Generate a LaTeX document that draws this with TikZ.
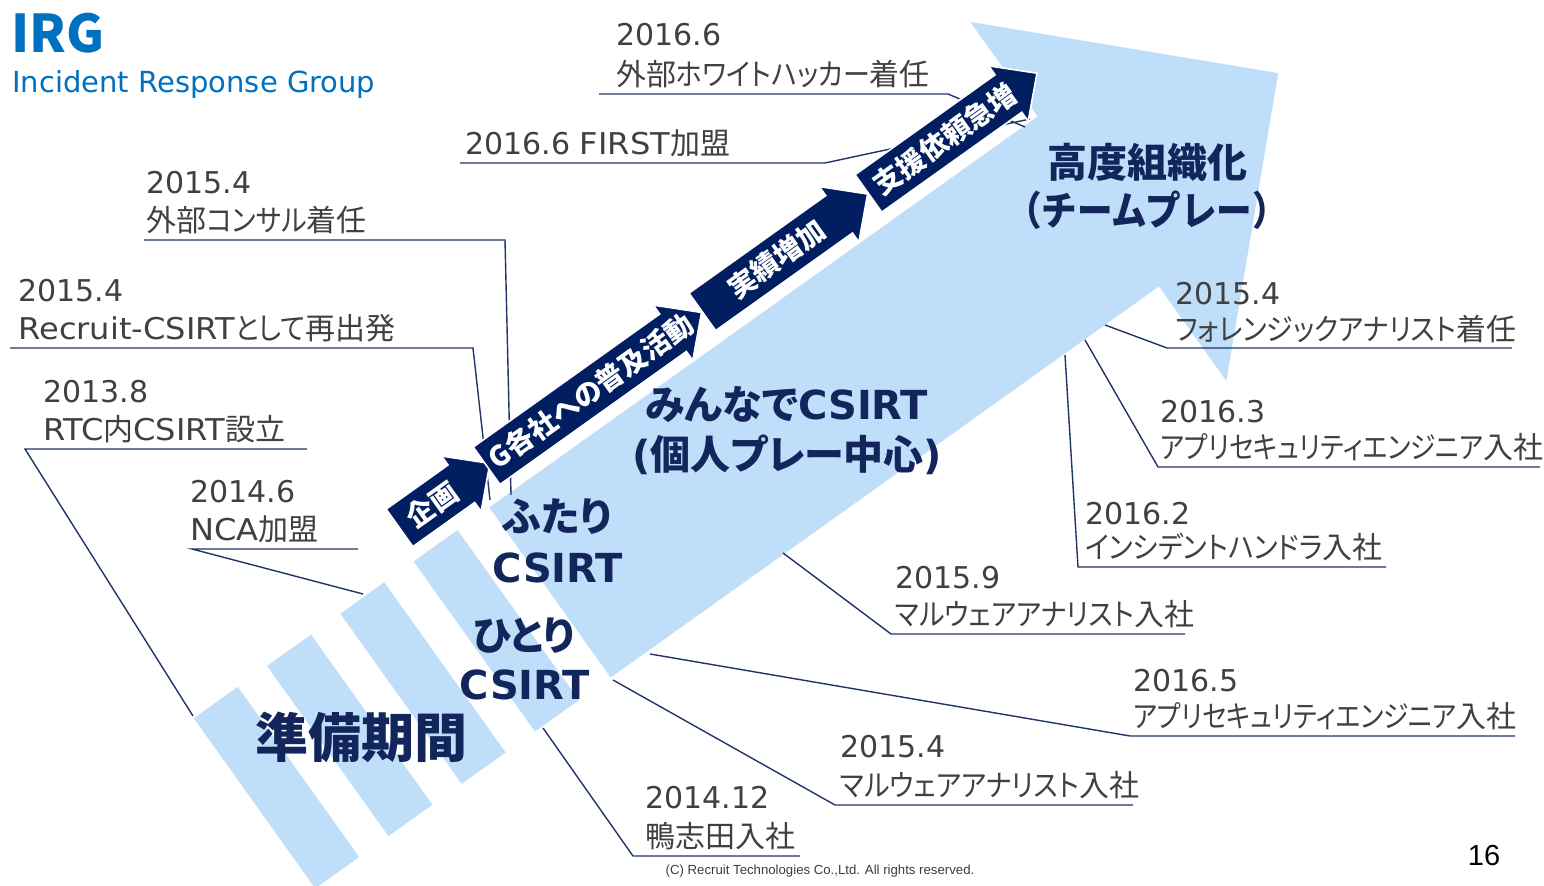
\documentclass[tikz,border=0pt]{standalone}
\usepackage{fontspec}
\setmainfont{DejaVu Sans}
\newfontfamily\jp[RawFeature=+palt]{Noto Sans CJK JP}
\newfontfamily\jk[RawFeature=+palt, FakeStretch=0.9]{Noto Sans CJK JP}
\newfontfamily\jkk[RawFeature=+palt, FakeStretch=0.86]{Noto Sans CJK JP}
\newfontfamily\jpplain{Noto Sans CJK JP}
\newfontfamily\jpc[FakeStretch=0.89]{Noto Sans CJK JP}
\newfontfamily\latw[FakeStretch=1.07]{DejaVu Sans}
\newfontfamily\ftr{Liberation Sans}
\definecolor{lblue}{RGB}{191,222,250}
\definecolor{navy}{RGB}{0,30,96}
\definecolor{bignavy}{RGB}{18,38,92}
\definecolor{linec}{RGB}{32,52,104}
\definecolor{lbl}{RGB}{64,64,64}
\definecolor{titleblue}{RGB}{0,112,192}
\definecolor{footc}{RGB}{60,60,60}
\begin{document}
\begin{tikzpicture}[x=0.5pt,y=-0.5pt,
  leader/.style={draw=linec, line width=0.7pt},
  lbltxt/.style={anchor=base west, inner sep=0pt, text=lbl, font=\fontsize{15}{18}\selectfont},
  bigtxt/.style={inner sep=0pt, text=bignavy, font=\fontsize{20}{24}\selectfont\bfseries},
  arrtxt/.style={inner sep=0pt, text=white, font=\fontsize{14}{16}\selectfont\bfseries\jp, rotate=35.5},
  darrow/.style={fill=navy, draw=white, line width=0.8pt, line join=miter}
]
\useasboundingbox (0,0) rectangle (1544,886);

% light blue shapes
\begin{scope}[shift={(550,592.5)}, rotate=35.5]
 \fill[lblue] (0,-104.5) -- (673.5,-104.5) -- (673.5,-220.5) -- (894.5,0) -- (673.5,220.5) -- (673.5,104.5) -- (0,104.5) -- cycle;
 \foreach \s in {0,1,2,3} {
   \fill[lblue] ({-93-90*\s},-104.5) -- ({-39-90*\s},-104.5) -- ({-39-90*\s},104.5) -- ({-93-90*\s},104.5) -- cycle;
 }
\end{scope}

% leader coordinates
\coordinate (l1a) at (599,94);  \coordinate (l1b) at (948,94);  \coordinate (l1c) at (1025,127);
\coordinate (l2a) at (460,163); \coordinate (l2b) at (825,163); \coordinate (l2c) at (1030,119);
\coordinate (l3a) at (144,240); \coordinate (l3b) at (505,240); \coordinate (l3c) at (511,495);
\coordinate (l4a) at (10,348);  \coordinate (l4b) at (473,348); \coordinate (l4c) at (490,500);
\coordinate (l5a) at (307,449); \coordinate (l5b) at (25,449);  \coordinate (l5c) at (193,716);
\coordinate (l6a) at (358,549); \coordinate (l6b) at (192,549); \coordinate (l6c) at (363,594);
\coordinate (r1a) at (1512,348); \coordinate (r1b) at (1167,348); \coordinate (r1c) at (1105,325);
\coordinate (r2a) at (1540,467); \coordinate (r2b) at (1158,467); \coordinate (r2c) at (1085,340);
\coordinate (r3a) at (1386,567); \coordinate (r3b) at (1078,567); \coordinate (r3c) at (1065,355);
\coordinate (r4a) at (1185,634); \coordinate (r4b) at (891,634);  \coordinate (r4c) at (783,553);
\coordinate (r5a) at (1515,736); \coordinate (r5b) at (1130,736); \coordinate (r5c) at (650,654);
\coordinate (r6a) at (1133,805); \coordinate (r6b) at (835,805);  \coordinate (r6c) at (613,680);
\coordinate (r7a) at (800,856);  \coordinate (r7b) at (633,856);  \coordinate (r7c) at (543,728);

\foreach \n in {l1,l2,l3,l4,l5,l6,r1,r2,r3,r4,r5,r6,r7} {
  \draw[leader] (\n a) -- (\n b) -- (\n c);
}

% dark arrows
\begin{scope}[shift={(550,592.5)}, rotate=35.5]
 \foreach \a/\t in {-85/26, 22/286, 287/490, 491/698} {
   \draw[darrow] (\a,-163) -- ({\t-35},-163) -- ({\t-35},-174) -- (\t,-140) -- ({\t-35},-106) -- ({\t-35},-117) -- (\a,-117) -- cycle;
 }
 \node[arrtxt] (a1) at (-45,-140) {企画};
 \node[arrtxt] (a2) at (150,-140) {G各社への普及活動};
 \node[arrtxt] (a3) at (378,-140) {実績増加};
 \node[arrtxt] (a4) at (585,-140) {支援依頼急増};
\end{scope}

% big texts
\node[bigtxt] (t1) at (1147,162) {\jp 高度組織化};
\node[bigtxt] (t2) at (1147,210) {\jpc （チームプレー）};
\node[bigtxt] (t3) at (787,405) {{\jp みんなで}CSIRT};
\node[bigtxt] (t4) at (787,455) {({\jp 個人プレー中心})};
\node[bigtxt] (t5) at (557,517) {\jp ふたり};
\node[bigtxt] (t6) at (558,568) {CSIRT};
\node[bigtxt] (t7) at (524,636) {\jp ひとり};
\node[bigtxt] (t8) at (525,685) {CSIRT};
\node[bigtxt, font=\fontsize{26.5}{30}\selectfont\bfseries] (t9) at (361,737) {\jp 準備期間};

% labels
\node[lbltxt] (d1) at (616,46) {2016.6};
\node[lbltxt] (e1) at (616,86) {\jp 外部{\jk ホワイトハッカー}着任};
\node[lbltxt] (e2) at (465,155) {2016.6 {\latw FIRST}{\jp 加盟}};
\node[lbltxt] (d3) at (146,194) {2015.4};
\node[lbltxt] (e3) at (146,232) {\jp 外部{\jk コンサル}着任};
\node[lbltxt] (d4) at (18,302) {2015.4};
\node[lbltxt] (e4) at (18,340) {{\latw Recruit-CSIRT}{\jk として}{\jp 再出発}};
\node[lbltxt] (d5) at (43,403) {2013.8};
\node[lbltxt] (e5) at (43,441) {{\latw RTC}{\jp 内}{\latw CSIRT}{\jp 設立}};
\node[lbltxt] (d6) at (190,503) {2014.6};
\node[lbltxt] (e6) at (190,541) {{\latw NCA}{\jp 加盟}};
\node[lbltxt] (d7) at (1175,305) {2015.4};
\node[lbltxt] (e7) at (1175,341) {\jp {\jk フォレンジックアナリスト}着任};
\node[lbltxt] (d8) at (1160,423) {2016.3};
\node[lbltxt] (e8) at (1160,459) {\jp {\jkk アプリセキュリティエンジニア}入社};
\node[lbltxt] (d9) at (1085,525) {2016.2};
\node[lbltxt] (e9) at (1085,559) {\jp {\jk インシデントハンドラ}入社};
\node[lbltxt] (d10) at (895,589) {2015.9};
\node[lbltxt] (e10) at (895,626) {\jp {\jk マルウェアアナリスト}入社};
\node[lbltxt] (d11) at (1133,692) {2016.5};
\node[lbltxt] (e11) at (1133,728) {\jp {\jkk アプリセキュリティエンジニア}入社};
\node[lbltxt] (d12) at (840,758) {2015.4};
\node[lbltxt] (e12) at (840,797) {\jp {\jk マルウェアアナリスト}入社};
\node[lbltxt] (d13) at (645,809) {2014.12};
\node[lbltxt] (e13) at (645,848) {\jp 鴨志田入社};

% title
\node[anchor=base west, inner sep=0pt, text=titleblue, font=\fontsize{26}{30}\selectfont\bfseries\jpplain] (irg) at (11,53) {IRG};
\node[anchor=base west, inner sep=0pt, text=titleblue, font=\fontsize{14.5}{16}\selectfont] (sub) at (12,93) {Incident Response Group};

% footer
\node[inner sep=0pt, text=footc, font=\fontsize{6.6}{8}\selectfont\ftr] (foot) at (820,871) {(C) Recruit Technologies Co.,Ltd. All rights reserved.};
\node[inner sep=0pt, font=\fontsize{14.5}{16}\selectfont\ftr] (pg) at (1484,856) {16};
\end{tikzpicture}
\end{document}
